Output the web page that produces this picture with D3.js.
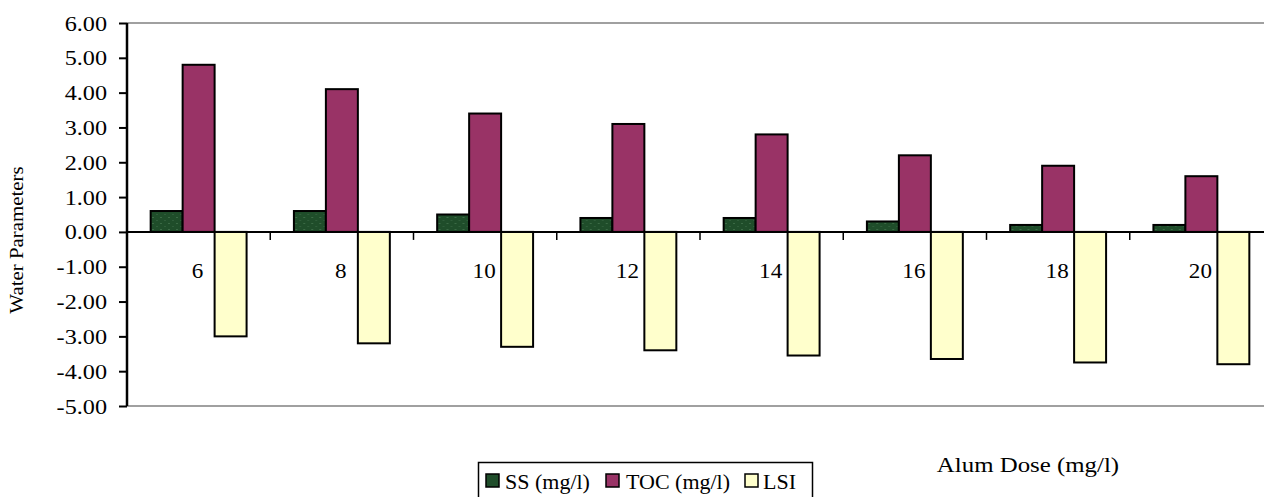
<!DOCTYPE html>
<html>
<head>
<meta charset="utf-8">
<script src="https://cdn.jsdelivr.net/npm/d3@7"></script>
<style>
  html, body { margin: 0; padding: 0; background: #ffffff; }
  svg { display: block; }
  text { font-family: "Liberation Serif", "Times New Roman", serif; fill: #000; }
</style>
</head>
<body>
<svg id="chart" width="1264" height="497"></svg>
<script>
// ---- data ----
const categories = ["6", "8", "10", "12", "14", "16", "18", "20"];
const seriesNames = ["SS (mg/l)", "TOC (mg/l)", "LSI"];
const ssValues  = [0.6, 0.6, 0.5, 0.4, 0.4, 0.3, 0.2, 0.2];
const tocValues = [4.8, 4.1, 3.4, 3.1, 2.8, 2.2, 1.9, 1.6];
const lsiValues = [-3.0, -3.2, -3.3, -3.4, -3.55, -3.65, -3.75, -3.8];
const yTicks = [6, 5, 4, 3, 2, 1, 0, -1, -2, -3, -4, -5];
const yTitle = "Water Parameters";
const xTitle = "Alum Dose (mg/l)";

const colors = ["url(#ssPat)", "#993366", "#ffffcc"];
const legendColors = ["#1f4d2a", "#993366", "#ffffcc"];
const seriesValues = [ssValues, tocValues, lsiValues];

(function () {
// ---- layout ----
const svg = d3.select("#chart");
const pLeft = 127, pRight = 1273, pTop = 23, pBottom = 406;
const SX = 1.1; // horizontal glyph stretch of the original rendering

const defs = svg.append("defs");
const pat = defs.append("pattern").attr("id", "ssPat").attr("patternUnits", "userSpaceOnUse")
  .attr("width", 8).attr("height", 6);
pat.append("rect").attr("width", 8).attr("height", 6).attr("fill", "#1f4d2a");
pat.append("rect").attr("x", 1).attr("y", 1).attr("width", 2).attr("height", 1).attr("fill", "#3b6a45");
pat.append("rect").attr("x", 5).attr("y", 4).attr("width", 2).attr("height", 1).attr("fill", "#2f5d3a");

const x = d3.scaleBand().domain(categories).range([pLeft, pRight]).paddingInner(0).paddingOuter(0);
const inner = d3.scaleBand().domain(d3.range(seriesNames.length))
  .range([0, x.bandwidth()]).paddingInner(0).paddingOuter(0.74);
const y = d3.scaleLinear().domain([-5, 6]).range([pBottom, pTop]);

function stretchedText(g, tx, ty, str, size, anchor, rot, sx) {
  return g.append("text")
    .attr("transform", `translate(${tx},${ty})` + (rot ? ` rotate(${rot})` : "") + ` scale(${sx || SX},1)`)
    .attr("font-size", size)
    .attr("text-anchor", anchor)
    .text(str);
}

// plot area border lines (top & bottom, gray)
svg.append("line").attr("x1", pLeft).attr("x2", pRight).attr("y1", y(6)).attr("y2", y(6))
  .attr("stroke", "#808080").attr("stroke-width", 1.5);
svg.append("line").attr("x1", pLeft).attr("x2", pRight).attr("y1", y(-5)).attr("y2", y(-5))
  .attr("stroke", "#808080").attr("stroke-width", 1.5);

// bars
const groups = svg.append("g").selectAll("g").data(categories).join("g")
  .attr("transform", d => `translate(${x(d)},0)`);
groups.selectAll("rect")
  .data((d, i) => seriesValues.map((vals, s) => ({ s, v: vals[i] })))
  .join("rect")
  .attr("x", d => inner(d.s))
  .attr("width", inner.bandwidth())
  .attr("y", d => y(Math.max(0, d.v)))
  .attr("height", d => Math.abs(y(d.v) - y(0)))
  .attr("fill", d => colors[d.s])
  .attr("stroke", "#000").attr("stroke-width", 2);

// zero line (category axis)
svg.append("line").attr("x1", pLeft).attr("x2", pRight).attr("y1", y(0)).attr("y2", y(0))
  .attr("stroke", "#000").attr("stroke-width", 2);
// category ticks at band boundaries
const boundaries = categories.slice(1).map(c => x(c));
svg.append("g").selectAll("line").data(boundaries).join("line")
  .attr("x1", d => d).attr("x2", d => d).attr("y1", y(0)).attr("y2", y(0) + 8)
  .attr("stroke", "#000").attr("stroke-width", 1.5);
// category labels
const catG = svg.append("g");
categories.forEach(c => {
  stretchedText(catG, x(c) + x.bandwidth() / 2 - 1, y(0) + 46, c, 21, "middle");
});

// y axis
const yAxis = svg.append("g").attr("transform", `translate(${pLeft},0)`)
  .call(d3.axisLeft(y).tickValues(yTicks).tickSize(8).tickFormat(d3.format(".2f")));
yAxis.select(".domain").attr("stroke", "#000").attr("stroke-width", 2.5).attr("d", `M0,${pTop}V${pBottom}`);
yAxis.selectAll(".tick line").attr("stroke", "#000").attr("stroke-width", 2);
yAxis.selectAll(".tick text").remove();
const yLab = svg.append("g");
yTicks.forEach(v => {
  const lbl = (v < 0 ? "-" : "") + d3.format(".2f")(Math.abs(v));
  stretchedText(yLab, pLeft - 20, y(v) + 7.5, lbl, 22, "end");
});

// axis titles
stretchedText(svg, 23, 240, yTitle, 18.5, "middle", -90, 1.13);
stretchedText(svg, 1028, 472, xTitle, 22, "middle", null, 1.13);

// legend
const lg = svg.append("g");
lg.append("rect").attr("x", 478.5).attr("y", 462.5).attr("width", 334).attr("height", 45)
  .attr("fill", "#fff").attr("stroke", "#000").attr("stroke-width", 1.5);
const legendPos = [{ sx: 486, tx: 505 }, { sx: 606, tx: 626 }, { sx: 745, tx: 763 }];
seriesNames.forEach((n, i) => {
  lg.append("rect").attr("x", legendPos[i].sx).attr("y", 474).attr("width", 13).attr("height", 13)
    .attr("fill", legendColors[i]).attr("stroke", "#000").attr("stroke-width", 1.5);
  stretchedText(lg, legendPos[i].tx, 488.5, n, 20, "start");
});
})();
</script>
</body>
</html>
